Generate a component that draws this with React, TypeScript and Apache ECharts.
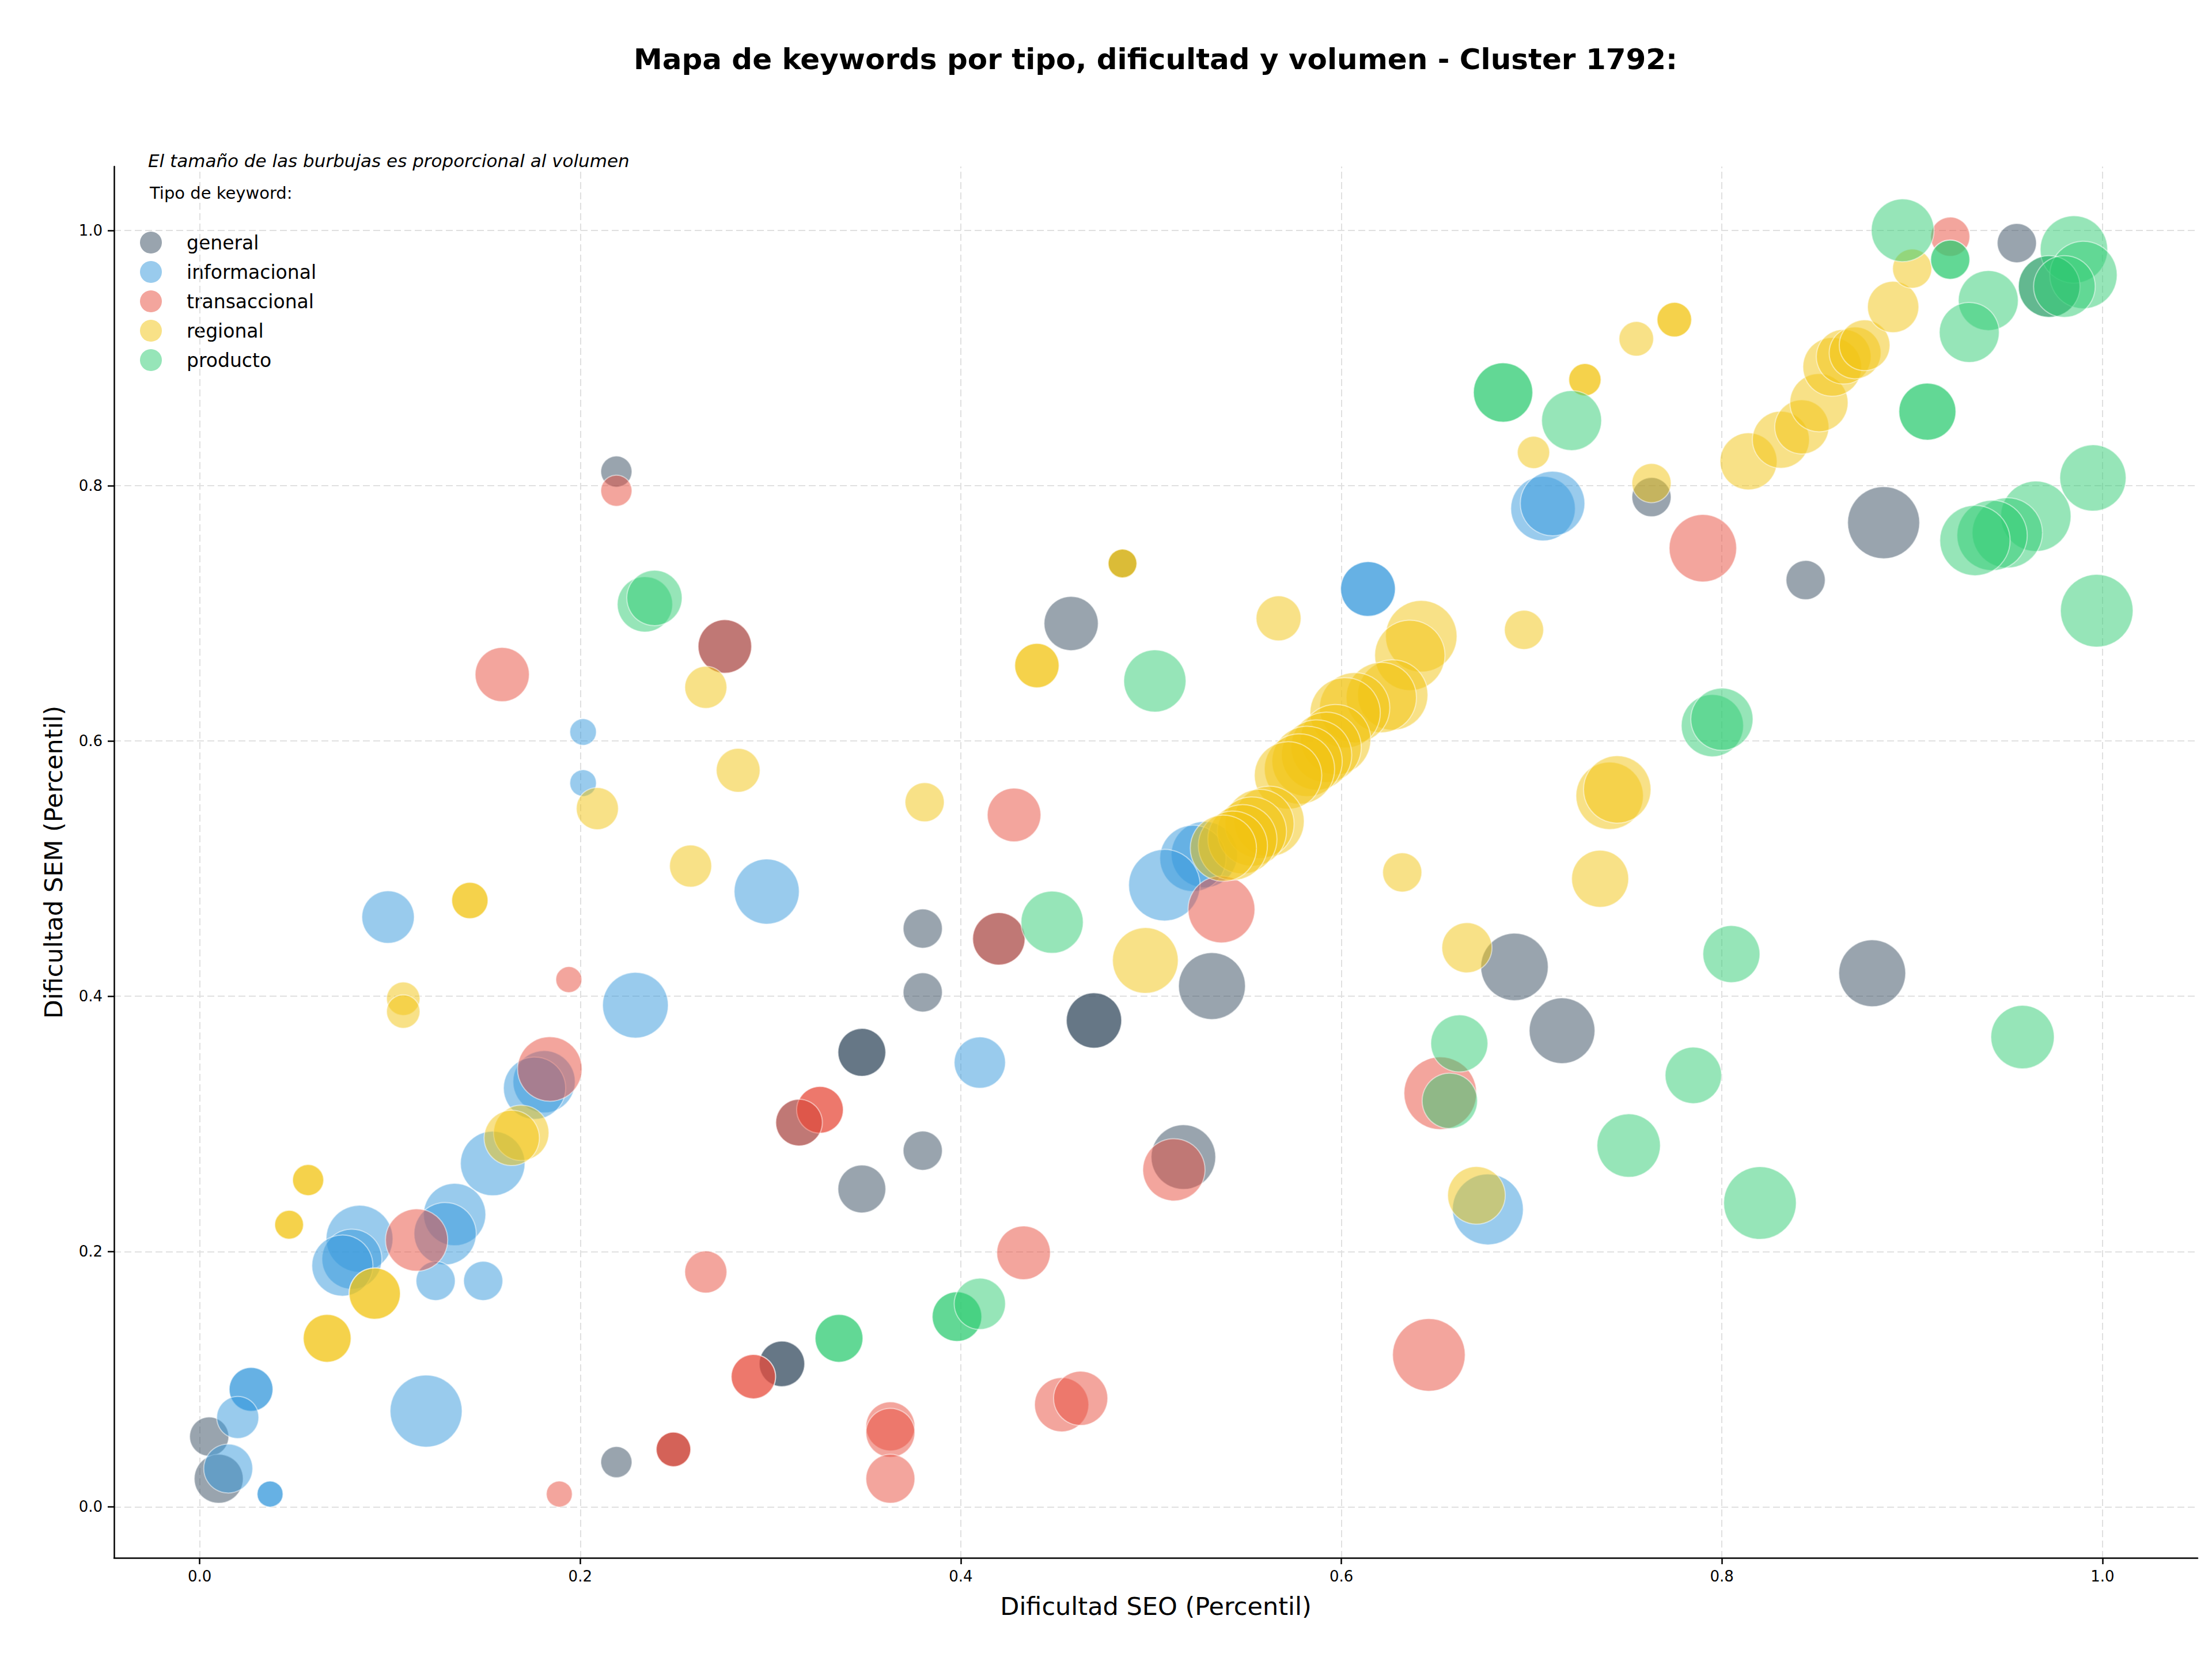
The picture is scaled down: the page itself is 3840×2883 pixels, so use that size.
import React, { useEffect, useRef } from "react";
import * as echarts from "echarts";

const FONT = "DejaVu Sans";

const titleText = "Mapa de keywords por tipo, dificultad y volumen - Cluster 1792:";
const subtitleText = "El tamaño de las burbujas es proporcional al volumen";
const legendTitle = "Tipo de keyword:";
const xName = "Dificultad SEO (Percentil)";
const yName = "Dificultad SEM (Percentil)";

const categories = ["general", "informacional", "transaccional", "regional", "producto"];
const colors = ["#34495e", "#3498db", "#e74c3c", "#f1c40f", "#2ecc71"];

const xTicks = [0, 0.2, 0.4, 0.6, 0.8, 1.0];
const yTicks = [0, 0.2, 0.4, 0.6, 0.8, 1.0];

// [dificultad SEO, dificultad SEM, volumen]
const general = [
  [0.219, 0.811, 2920], [0.276, 0.674, 8650], [0.458, 0.692, 8840], [0.485, 0.739, 2500],
  [0.532, 0.408, 13460], [0.47, 0.381, 9220], [0.47, 0.381, 9220], [0.348, 0.356, 6890],
  [0.348, 0.356, 6890], [0.38, 0.453, 4620], [0.38, 0.403, 4620], [0.42, 0.445, 8280],
  [0.315, 0.301, 6560], [0.38, 0.279, 4620], [0.348, 0.249, 6890], [0.517, 0.274, 12540],
  [0.306, 0.112, 6240], [0.306, 0.112, 6240], [0.219, 0.035, 2920], [0.249, 0.045, 3600],
  [0.005, 0.055, 4620], [0.01, 0.022, 7220], [0.691, 0.423, 13690], [0.716, 0.373, 13000],
  [0.879, 0.418, 13460], [0.885, 0.771, 15620], [0.844, 0.726, 4620], [0.763, 0.791, 4620],
  [0.955, 0.99, 4620], [0.972, 0.956, 11450],
];

const informacional = [
  [0.2015, 0.607, 2120], [0.2015, 0.567, 2120], [0.298, 0.482, 12770], [0.099, 0.462, 8280],
  [0.229, 0.393, 13000], [0.181, 0.333, 11660], [0.176, 0.328, 11660], [0.154, 0.269, 12540],
  [0.134, 0.229, 11660], [0.129, 0.214, 11660], [0.084, 0.21, 13460], [0.08, 0.194, 10820],
  [0.075, 0.189, 11240], [0.124, 0.177, 4620], [0.149, 0.177, 4620], [0.027, 0.092, 5780],
  [0.027, 0.092, 5780], [0.02, 0.07, 5330], [0.015, 0.03, 7220], [0.037, 0.01, 2030],
  [0.037, 0.01, 2030], [0.119, 0.075, 15620], [0.41, 0.348, 7920], [0.614, 0.719, 9020],
  [0.614, 0.719, 9020], [0.706, 0.782, 12540], [0.711, 0.786, 12540], [0.677, 0.233, 15130],
  [0.528, 0.511, 13220], [0.522, 0.508, 13220], [0.507, 0.487, 15380],
];

const transaccional = [
  [0.219, 0.796, 2920], [0.276, 0.674, 8650], [0.159, 0.652, 8840], [0.428, 0.542, 8650],
  [0.194, 0.413, 2030], [0.184, 0.343, 12540], [0.114, 0.209, 11660], [0.189, 0.01, 2030],
  [0.249, 0.045, 3600], [0.249, 0.045, 3600], [0.291, 0.102, 5930], [0.291, 0.102, 5930],
  [0.326, 0.311, 6560], [0.326, 0.311, 6560], [0.315, 0.301, 6560], [0.42, 0.445, 8280],
  [0.537, 0.468, 13460], [0.512, 0.264, 11660], [0.433, 0.199, 8650], [0.266, 0.184, 5330],
  [0.363, 0.063, 7220], [0.363, 0.058, 7220], [0.363, 0.022, 7220], [0.453, 0.08, 8840],
  [0.463, 0.085, 8840], [0.646, 0.119, 15880], [0.652, 0.324, 15880], [0.79, 0.751, 13690],
  [0.92, 0.995, 4620],
];

const regional = [
  [0.266, 0.642, 5330], [0.283, 0.577, 5780], [0.209, 0.547, 5330], [0.258, 0.502, 5330],
  [0.142, 0.475, 3970], [0.142, 0.475, 3970], [0.107, 0.398, 3360], [0.107, 0.388, 3360],
  [0.169, 0.293, 9220], [0.164, 0.289, 9220], [0.092, 0.167, 7920], [0.092, 0.167, 7920],
  [0.057, 0.256, 2920], [0.057, 0.256, 2920], [0.047, 0.221, 2500], [0.047, 0.221, 2500],
  [0.067, 0.132, 6890], [0.067, 0.132, 6890], [0.485, 0.739, 2500], [0.485, 0.739, 2500],
  [0.44, 0.659, 5930], [0.44, 0.659, 5930], [0.567, 0.696, 6080], [0.381, 0.552, 4620],
  [0.497, 0.428, 13000], [0.632, 0.497, 4620], [0.666, 0.438, 7570], [0.671, 0.244, 10000],
  [0.736, 0.492, 9800], [0.741, 0.557, 13690], [0.745, 0.562, 13690], [0.696, 0.687, 4620],
  [0.701, 0.826, 3140], [0.728, 0.883, 3140], [0.728, 0.883, 3140], [0.755, 0.915, 3600],
  [0.775, 0.93, 3600], [0.775, 0.93, 3600], [0.763, 0.802, 4620],
  [0.642, 0.682, 15380], [0.636, 0.667, 14880], [0.627, 0.636, 14880], [0.621, 0.634, 14880],
  [0.607, 0.626, 14880], [0.602, 0.622, 14880], [0.597, 0.601, 14880], [0.592, 0.595, 14880],
  [0.587, 0.589, 14880], [0.582, 0.584, 14880], [0.578, 0.578, 14880], [0.572, 0.573, 13690],
  [0.562, 0.537, 14880], [0.557, 0.535, 14400], [0.553, 0.529, 14400], [0.548, 0.523, 14400],
  [0.543, 0.518, 14400], [0.538, 0.516, 13220],
  [0.814, 0.819, 9800], [0.831, 0.836, 9800], [0.842, 0.846, 8840], [0.851, 0.865, 10200],
  [0.858, 0.893, 10400], [0.864, 0.901, 9020], [0.87, 0.904, 8100], [0.875, 0.91, 7740],
  [0.89, 0.94, 7920], [0.9, 0.97, 4620],
];

const producto = [
  [0.234, 0.707, 9220], [0.239, 0.712, 9220], [0.502, 0.647, 11660], [0.448, 0.458, 11660],
  [0.398, 0.149, 7400], [0.398, 0.149, 7400], [0.41, 0.159, 7920], [0.336, 0.132, 6890],
  [0.336, 0.132, 6890], [0.662, 0.363, 9800], [0.657, 0.318, 9220], [0.685, 0.873, 10610],
  [0.685, 0.873, 10610], [0.721, 0.851, 10820], [0.805, 0.433, 9800], [0.958, 0.368, 12100],
  [0.785, 0.338, 9600], [0.751, 0.283, 12100], [0.82, 0.238, 15880], [0.795, 0.612, 11660],
  [0.8, 0.617, 11660], [0.908, 0.858, 9800], [0.908, 0.858, 9800], [0.895, 1.0, 11880],
  [0.92, 0.977, 4620], [0.92, 0.977, 4620], [0.985, 0.985, 13690], [0.99, 0.965, 13690],
  [0.972, 0.956, 11450], [0.98, 0.956, 11450], [0.94, 0.945, 10820], [0.93, 0.92, 10820],
  [0.995, 0.806, 13220], [0.965, 0.776, 14880], [0.95, 0.763, 14880], [0.942, 0.761, 14880],
  [0.933, 0.757, 14880], [0.997, 0.702, 15880],
];

const seriesData = [general, informacional, transaccional, regional, producto];

export default function App() {
  const ref = useRef<HTMLDivElement>(null);

  useEffect(() => {
    if (!ref.current) return;
    const chart = echarts.init(ref.current, null, { renderer: "svg" });

    const legendGraphics: any[] = [];
    categories.forEach((c, i) => {
      const cy = 421 + i * 51;
      legendGraphics.push({
        type: "circle",
        shape: { cx: 262, cy, r: 19 },
        style: { fill: colors[i], opacity: 0.5 },
        silent: true,
      });
      legendGraphics.push({
        type: "text",
        x: 324,
        y: cy,
        style: {
          text: c,
          fontSize: 33,
          fontFamily: FONT,
          fill: "#000",
          align: "left",
          verticalAlign: "middle",
        },
        silent: true,
      });
    });

    const option: any = {
      animation: false,
      backgroundColor: "#ffffff",
      textStyle: { fontFamily: FONT },
      grid: { left: 198, top: 289, width: 3617, height: 2415, containLabel: false },
      xAxis: {
        type: "value",
        min: -0.045,
        max: 1.05,
        name: xName,
        nameLocation: "middle",
        nameGap: 62,
        nameTextStyle: { fontSize: 43, color: "#000", fontFamily: FONT },
        axisLine: { show: true, onZero: false, lineStyle: { color: "#000", width: 2.5 } },
        axisTick: { show: true, customValues: xTicks, length: 11, lineStyle: { color: "#000", width: 2.5 } },
        axisLabel: {
          customValues: xTicks,
          formatter: (v: number) => v.toFixed(1),
          fontSize: 26,
          color: "#000",
          margin: 19,
          fontFamily: FONT,
        },
        splitLine: { show: false },
      },
      yAxis: {
        type: "value",
        min: -0.04,
        max: 1.05,
        name: yName,
        nameLocation: "middle",
        nameGap: 84,
        nameRotate: 90,
        nameTextStyle: { fontSize: 43, color: "#000", fontFamily: FONT },
        axisLine: { show: true, onZero: false, lineStyle: { color: "#000", width: 2.5 } },
        axisTick: { show: true, customValues: yTicks, length: 11, lineStyle: { color: "#000", width: 2.5 } },
        axisLabel: {
          customValues: yTicks,
          formatter: (v: number) => v.toFixed(1),
          fontSize: 26,
          color: "#000",
          margin: 20,
          fontFamily: FONT,
        },
        splitLine: { show: false },
      },
      graphic: [
        {
          type: "text",
          x: 2006,
          y: 103,
          style: {
            text: titleText,
            fontSize: 50,
            fontWeight: "bold",
            fontFamily: FONT,
            fill: "#000",
            align: "center",
            verticalAlign: "middle",
          },
          silent: true,
        },
        {
          type: "text",
          x: 257,
          y: 279,
          style: {
            text: subtitleText,
            fontSize: 31,
            fontStyle: "italic",
            fontFamily: FONT,
            fill: "#000",
            align: "left",
            verticalAlign: "middle",
          },
          silent: true,
        },
        {
          type: "text",
          x: 260,
          y: 335,
          style: {
            text: legendTitle,
            fontSize: 29,
            fontFamily: FONT,
            fill: "#000",
            align: "left",
            verticalAlign: "middle",
          },
          silent: true,
        },
        ...legendGraphics,
      ],
      series: [
        {
          type: "scatter",
          name: "grid",
          data: [],
          z: 0,
          silent: true,
          markLine: {
            silent: true,
            z: 0,
            symbol: ["none", "none"],
            label: { show: false },
            emphasis: { disabled: true },
            lineStyle: { type: [12, 6], color: "#e0e0e0", width: 2 },
            data: [
              ...xTicks.map((v) => ({ xAxis: v })),
              ...yTicks.map((v) => ({ yAxis: v })),
            ],
          },
        },
        ...categories.map((c, i) => ({
          type: "scatter",
          name: c,
          data: seriesData[i],
          z: 2,
          symbolSize: (d: number[]) => Math.sqrt(d[2]),
          itemStyle: {
            color: colors[i],
            opacity: 0.5,
            borderColor: "#ffffff",
            borderWidth: 2,
          },
          emphasis: { disabled: true },
        })),
      ],
    };

    chart.setOption(option);
    return () => chart.dispose();
  }, []);

  return (
    <div
      ref={ref}
      style={{ position: "absolute", left: 0, top: 0, width: 3840, height: 2883, background: "#fff" }}
    />
  );
}
